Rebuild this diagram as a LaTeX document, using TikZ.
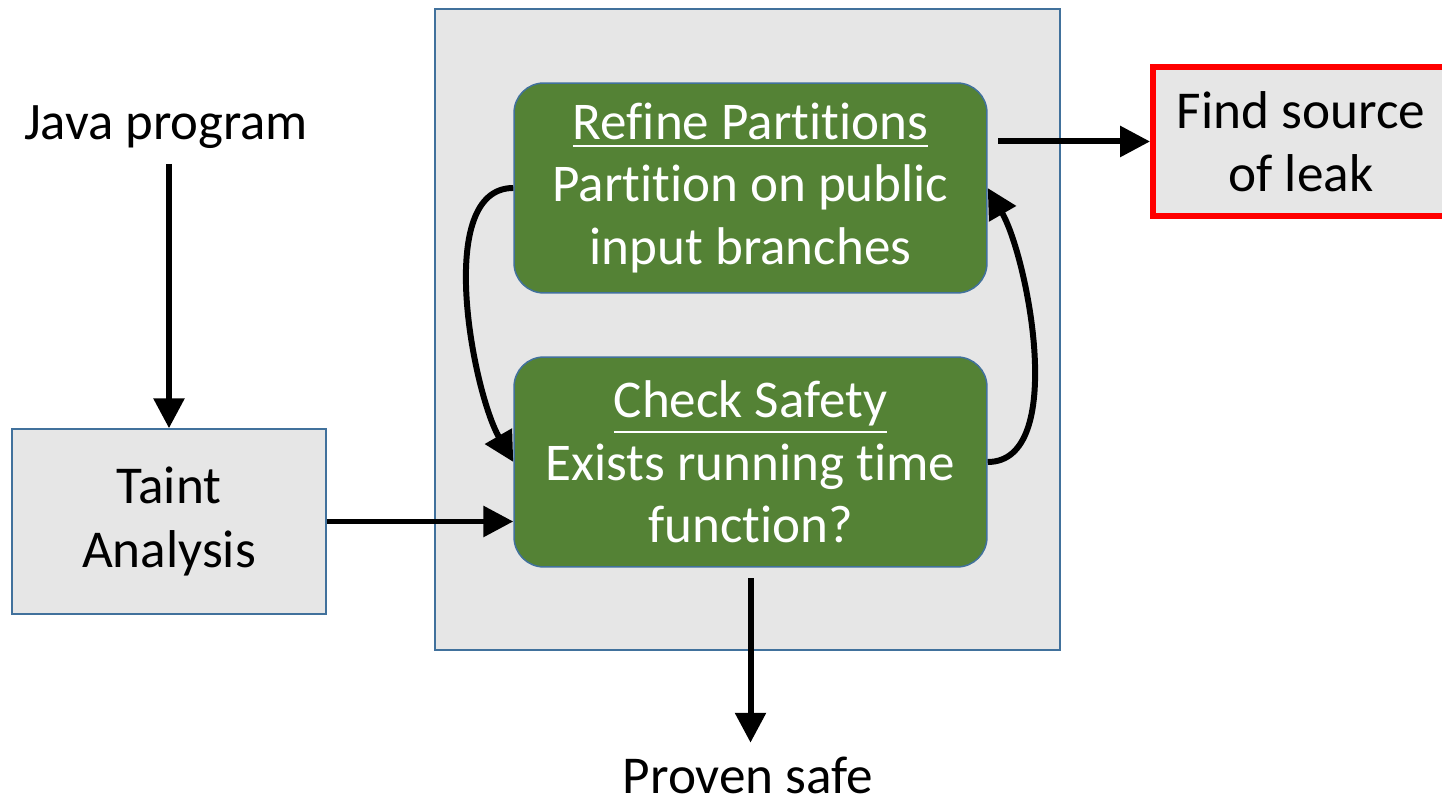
\documentclass[tikz,border=0pt]{standalone}
\usepackage{fontspec}
\setmainfont{Carlito}[Ligatures={NoCommon,NoContextual}]
\usetikzlibrary{arrows.meta}
\definecolor{boxgray}{HTML}{E6E6E6}
\definecolor{boxblue}{HTML}{41719C}
\definecolor{stepgreen}{HTML}{548235}
\newcommand{\uln}[1]{\leavevmode\vtop{\hbox{#1}\kern2.6pt\hrule height1.3pt}}

\begin{document}
\begin{tikzpicture}[x=0.02cm, y=0.02cm, font=\fontsize{30.3}{36}\selectfont,
  >={Triangle[length=17pt, width=17pt]}, line width=0.85pt,
  gb/.style={draw=boxblue, fill=boxgray, align=center, inner sep=0pt},
  st/.style={draw=boxblue, fill=stepgreen, rounded corners=17pt, minimum width=9.46cm, minimum height=4.2cm,
    text=white, align=center, font=\fontsize{30.2}{35.5}\selectfont},
  arr/.style={->, line width=3.4pt}]
  \useasboundingbox (0,0) rectangle (1442,810);
  \node[gb, minimum width=12.5cm, minimum height=12.82cm] (frame) at (747.5,480.5) {};
  \node[st] (refine) at (750.5,622) {\uln{Refine Partitions}\\Partition on public\\input branches};
  \node[st] (check) at (750.5,348) {\uln{Check Safety}\\Exists running time\\function?};
  \node[gb, minimum width=6.28cm, minimum height=3.7cm] (taint) at (169,288.5) {Taint\\Analysis};
  \node[gb, draw=red, line width=3.4pt, minimum width=5.92cm, minimum height=2.98cm] (leak) at (1301,668.5) {Find source\\of leak};
  \node[anchor=base, inner xsep=0pt, inner ysep=8pt, font=\fontsize{30}{36}\selectfont] (java) at (166,670) {Java program};
  \node[anchor=base, inner sep=0pt] (proven) at (748,16) {Proven safe};
  \draw[arr] (java.south -| taint.north) -- (taint.north);
  \draw[arr] (taint.east) -- (taint.east -| check.west);
  \draw[arr, shorten <=6pt, shorten >=0pt] (refine.east |- leak.west) -- (leak.west);
  \draw[arr, shorten <=6pt, shorten >=8pt] (check.south) -- (check.south |- proven.north);
  \draw[arr] (refine.west) to[out=180, in=120, looseness=0.75] (check.west);
  \draw[arr] (check.east) to[out=0, in=-60, looseness=0.75] (refine.east);
\end{tikzpicture}
\end{document}
